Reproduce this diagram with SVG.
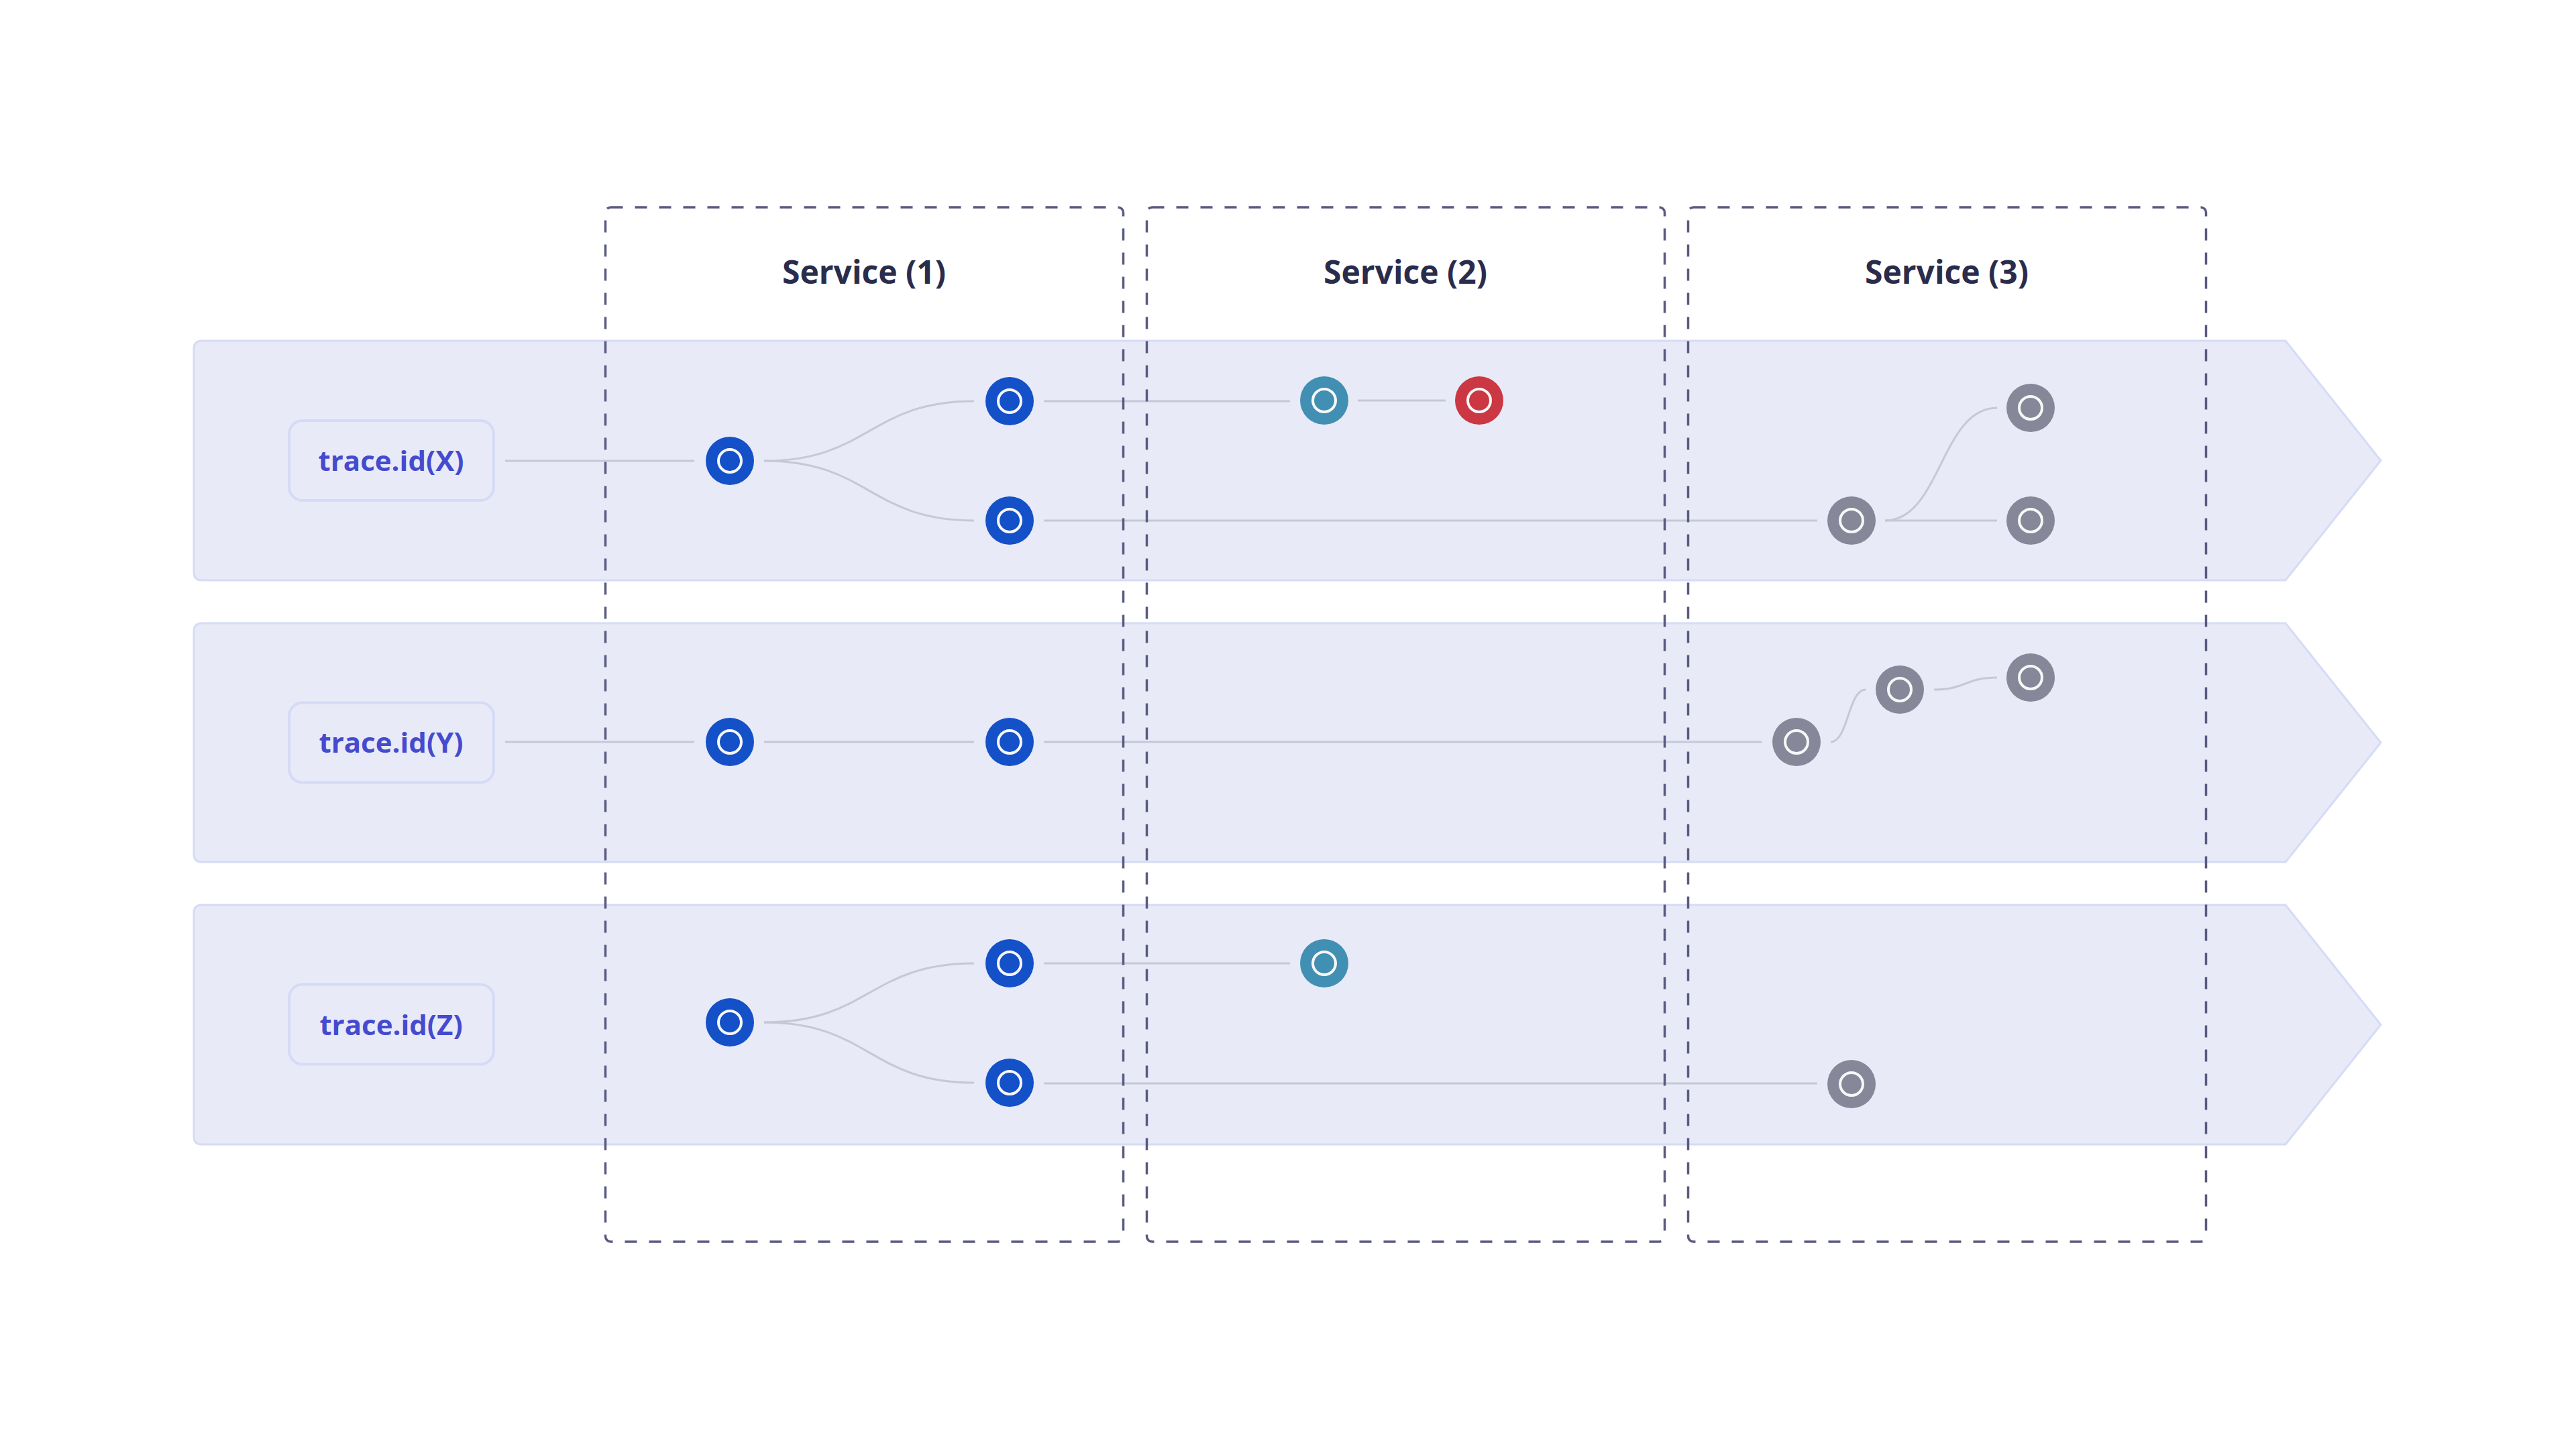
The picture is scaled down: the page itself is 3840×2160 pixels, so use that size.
<svg xmlns="http://www.w3.org/2000/svg" width="3840" height="2160" viewBox="0 0 3840 2160">
  <defs>
    <style>
      .lane { fill: #E8EAF7; stroke: #D6DBF6; stroke-width: 3; }
      .lbox { fill: #E8EAF7; stroke: #D5DAF6; stroke-width: 4; }
      .ltxt { font-family: "Open Sans", "Noto Sans", "Liberation Sans", sans-serif; font-weight: 700; font-size: 42px; fill: #454ACF; text-anchor: middle; }
      .stxt { font-family: "Open Sans", "Noto Sans", "Liberation Sans", sans-serif; font-weight: 700; font-size: 48px; fill: #2A2C4C; text-anchor: middle; }
      .svc { fill: none; stroke: #585A80; stroke-width: 3.5; stroke-dasharray: 18 18; }
      .conn { fill: none; stroke: #C6C8D7; stroke-width: 3; }
      .blue { fill: #1450C8; }
      .teal { fill: #418FB2; }
      .red { fill: #CB3742; }
      .gray { fill: #868899; }
      .ring { fill: none; stroke: #F7F7F7; stroke-width: 4; }
    </style>
  </defs>
  <rect x="0" y="0" width="3840" height="2160" fill="#FFFFFF"/>

  <!-- lanes -->
  <g id="lane-x">
    <path class="lane" d="M301,508 H3407 L3549,686.5 L3407,865 H301 Q289,865 289,853 V520 Q289,508 301,508 Z"/>
    <rect class="lbox" x="431" y="627" width="305" height="119" rx="20"/>
    <text class="ltxt" x="583" y="701.5">trace.id(X)</text>
  </g>
  <g id="lane-y">
    <path class="lane" d="M301,929 H3407 L3549,1107 L3407,1285 H301 Q289,1285 289,1273 V941 Q289,929 301,929 Z"/>
    <rect class="lbox" x="431" y="1047.5" width="305" height="119" rx="20"/>
    <text class="ltxt" x="583" y="1122">trace.id(Y)</text>
  </g>
  <g id="lane-z">
    <path class="lane" d="M301,1349 H3407 L3549,1527.5 L3407,1706 H301 Q289,1706 289,1694 V1361 Q289,1349 301,1349 Z"/>
    <rect class="lbox" x="431" y="1467.5" width="305" height="119" rx="20"/>
    <text class="ltxt" x="583" y="1542.5">trace.id(Z)</text>
  </g>

  <!-- connectors -->
  <g id="connectors">
    <!-- lane X -->
    <path class="conn" d="M753,687 H1035"/>
    <path class="conn" d="M1139,687 C1296,687 1296,598 1452,598"/>
    <path class="conn" d="M1139,687 C1296,687 1296,776 1452,776"/>
    <path class="conn" d="M1556,598 H1923"/>
    <path class="conn" d="M2024,597 H2155"/>
    <path class="conn" d="M1556,776 H2709"/>
    <path class="conn" d="M2810,776 C2893,776 2893,608 2977,608"/>
    <path class="conn" d="M2810,776 H2977"/>
    <!-- lane Y -->
    <path class="conn" d="M753,1106 H1035"/>
    <path class="conn" d="M1139,1106 H1452"/>
    <path class="conn" d="M1556,1106 H2626"/>
    <path class="conn" d="M2729,1106 C2755,1106 2755,1028 2781,1028"/>
    <path class="conn" d="M2883,1028 C2930,1028 2930,1010 2977,1010"/>
    <!-- lane Z -->
    <path class="conn" d="M1139,1524 C1296,1524 1296,1436 1452,1436"/>
    <path class="conn" d="M1139,1524 C1296,1524 1296,1614 1452,1614"/>
    <path class="conn" d="M1556,1436 H1923"/>
    <path class="conn" d="M1556,1615 H2709"/>
  </g>

  <!-- services -->
  <g id="service-1">
    <rect class="svc" x="902.5" y="309" width="772" height="1542" rx="8"/>
    <text class="stxt" x="1288" y="423">Service (1)</text>
  </g>
  <g id="service-2">
    <rect class="svc" x="1709.5" y="309" width="772" height="1542" rx="8"/>
    <text class="stxt" x="2095" y="423">Service (2)</text>
  </g>
  <g id="service-3">
    <rect class="svc" x="2516.5" y="309" width="772" height="1542" rx="8"/>
    <text class="stxt" x="2902" y="423">Service (3)</text>
  </g>

  <!-- nodes lane X -->
  <g id="x-s1-root"><circle class="blue" cx="1088" cy="687" r="36"/><circle class="ring" cx="1088" cy="687" r="17"/></g>
  <g id="x-s1-a"><circle class="blue" cx="1505" cy="598" r="36"/><circle class="ring" cx="1505" cy="598" r="17"/></g>
  <g id="x-s1-b"><circle class="blue" cx="1505" cy="776" r="36"/><circle class="ring" cx="1505" cy="776" r="17"/></g>
  <g id="x-s2-a"><circle class="teal" cx="1974" cy="597" r="36"/><circle class="ring" cx="1974" cy="597" r="17"/></g>
  <g id="x-s2-b"><circle class="red" cx="2205" cy="597" r="36"/><circle class="ring" cx="2205" cy="597" r="17"/></g>
  <g id="x-s3-a"><circle class="gray" cx="2760" cy="776" r="36"/><circle class="ring" cx="2760" cy="776" r="17"/></g>
  <g id="x-s3-b"><circle class="gray" cx="3027" cy="608" r="36"/><circle class="ring" cx="3027" cy="608" r="17"/></g>
  <g id="x-s3-c"><circle class="gray" cx="3027" cy="776" r="36"/><circle class="ring" cx="3027" cy="776" r="17"/></g>

  <!-- nodes lane Y -->
  <g id="y-s1-a"><circle class="blue" cx="1088" cy="1106" r="36"/><circle class="ring" cx="1088" cy="1106" r="17"/></g>
  <g id="y-s1-b"><circle class="blue" cx="1505" cy="1106" r="36"/><circle class="ring" cx="1505" cy="1106" r="17"/></g>
  <g id="y-s3-a"><circle class="gray" cx="2678" cy="1106" r="36"/><circle class="ring" cx="2678" cy="1106" r="17"/></g>
  <g id="y-s3-b"><circle class="gray" cx="2832" cy="1028" r="36"/><circle class="ring" cx="2832" cy="1028" r="17"/></g>
  <g id="y-s3-c"><circle class="gray" cx="3027" cy="1010" r="36"/><circle class="ring" cx="3027" cy="1010" r="17"/></g>

  <!-- nodes lane Z -->
  <g id="z-s1-root"><circle class="blue" cx="1088" cy="1524" r="36"/><circle class="ring" cx="1088" cy="1524" r="17"/></g>
  <g id="z-s1-a"><circle class="blue" cx="1505" cy="1436" r="36"/><circle class="ring" cx="1505" cy="1436" r="17"/></g>
  <g id="z-s1-b"><circle class="blue" cx="1505" cy="1614" r="36"/><circle class="ring" cx="1505" cy="1614" r="17"/></g>
  <g id="z-s2-a"><circle class="teal" cx="1974" cy="1436" r="36"/><circle class="ring" cx="1974" cy="1436" r="17"/></g>
  <g id="z-s3-a"><circle class="gray" cx="2760" cy="1616" r="36"/><circle class="ring" cx="2760" cy="1616" r="17"/></g>
</svg>
